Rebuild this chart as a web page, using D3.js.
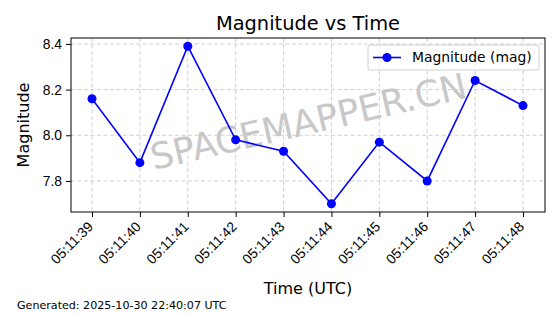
<!DOCTYPE html>
<html lang="en">
<head>
<meta charset="utf-8">
<title>Magnitude vs Time</title>
<style>
  body { margin: 0; background: #fff; }
  svg { font-family: "DejaVu Sans", sans-serif; }
  .grid line { stroke: #c4c4c4; stroke-dasharray: 4,2.5; stroke-width: 0.8; }
  .axis text { font-size: 13.9px; fill: #000; }
  .axis path, .axis line { stroke: #000; }
</style>
</head>
<body>
<svg width="560" height="314"></svg>
<script src="https://d3js.org/d3.v7.min.js"></script>
<script>
// data
var times = ["05:11:39", "05:11:40", "05:11:41", "05:11:42", "05:11:43",
             "05:11:44", "05:11:45", "05:11:46", "05:11:47", "05:11:48"];
var magnitudes = [8.16, 7.88, 8.39, 7.98, 7.93, 7.70, 7.97, 7.80, 8.24, 8.13];
var yTicks = [7.8, 8.0, 8.2, 8.4];

var svg = d3.select("svg"),
    margin = {top: 38, right: 15, bottom: 102, left: 71},
    width = +svg.attr("width") - margin.left - margin.right,
    height = +svg.attr("height") - margin.top - margin.bottom;

var parse = d3.timeParse("%H:%M:%S");
var pts = times.map(function(t, i) { return {t: parse(t), v: magnitudes[i]}; });

var x = d3.scaleTime()
    .domain(d3.extent(pts, function(d) { return d.t; }))
    .range([21, width - 22]);
var y = d3.scaleLinear()
    .domain([7.664, 8.426])
    .range([height, 0]);

var g = svg.append("g").attr("transform", "translate(" + margin.left + "," + margin.top + ")");

// grid
g.append("g").attr("class", "grid")
  .selectAll("line.v").data(pts).enter().append("line")
    .attr("x1", function(d) { return x(d.t); }).attr("x2", function(d) { return x(d.t); })
    .attr("y1", 0).attr("y2", height);
g.append("g").attr("class", "grid")
  .selectAll("line.h").data(yTicks).enter().append("line")
    .attr("x1", 0).attr("x2", width)
    .attr("y1", function(d) { return y(d); }).attr("y2", function(d) { return y(d); });

// watermark
g.append("text")
    .attr("transform", "translate(" + (width / 2 + 1) + "," + (height / 2 - 1) + ") rotate(-13)")
    .attr("text-anchor", "middle")
    .attr("dominant-baseline", "middle")
    .style("font-size", "36px")
    .style("fill", "#c8c8c8")
    .text("SPACEMAPPER.CN");

// axes
var xAxis = g.append("g").attr("class", "axis")
    .attr("transform", "translate(0," + height + ")")
    .call(d3.axisBottom(x).tickValues(pts.map(function(d) { return d.t; }))
      .tickFormat(d3.timeFormat("%H:%M:%S")).tickSize(5).tickSizeOuter(0));
xAxis.selectAll("text")
    .attr("x", 0).attr("y", 0)
    .attr("text-anchor", "end")
    .attr("dy", "0.35em")
    .attr("transform", "translate(-2,12) rotate(-45)");
xAxis.select(".domain").remove();

var yAxis = g.append("g").attr("class", "axis")
    .call(d3.axisLeft(y).tickValues(yTicks).tickFormat(d3.format(".1f")).tickSize(5).tickPadding(4));
yAxis.select(".domain").remove();

// frame
g.append("rect").attr("width", width).attr("height", height)
    .attr("fill", "none").attr("stroke", "#000").attr("stroke-width", 1);

// line + markers
var line = d3.line().x(function(d) { return x(d.t); }).y(function(d) { return y(d.v); });
g.append("path").datum(pts)
    .attr("d", line).attr("fill", "none").attr("stroke", "#0000ff").attr("stroke-width", 1.6);
g.selectAll("circle.pt").data(pts).enter().append("circle")
    .attr("cx", function(d) { return x(d.t); })
    .attr("cy", function(d) { return y(d.v); })
    .attr("r", 4.5).attr("fill", "#0000ff");

// legend
var lg = g.append("g").attr("transform", "translate(" + (width - 177) + ",7)");
lg.append("rect").attr("width", 171).attr("height", 25).attr("rx", 2)
    .attr("fill", "#fff").attr("fill-opacity", 0.8).attr("stroke", "#d0d0d0");
lg.append("line").attr("x1", 5).attr("x2", 33).attr("y1", 12.5).attr("y2", 12.5)
    .attr("stroke", "#0000ff").attr("stroke-width", 1.6);
lg.append("circle").attr("cx", 19).attr("cy", 12.5).attr("r", 4.5).attr("fill", "#0000ff");
lg.append("text").attr("x", 44).attr("y", 12.5).attr("dy", "0.35em")
    .style("font-size", "13.9px").text("Magnitude (mag)");

// titles
svg.append("text").attr("x", margin.left + width / 2).attr("y", 30)
    .attr("text-anchor", "middle").style("font-size", "19.4px").text("Magnitude vs Time");
svg.append("text").attr("x", margin.left + width / 2).attr("y", 294)
    .attr("text-anchor", "middle").style("font-size", "16px").text("Time (UTC)");
svg.append("text")
    .attr("transform", "translate(29," + (margin.top + height / 2) + ") rotate(-90)")
    .attr("text-anchor", "middle").style("font-size", "16px").text("Magnitude");
svg.append("text").attr("x", 17).attr("y", 309)
    .style("font-size", "11.1px").text("Generated: 2025-10-30 22:40:07 UTC");
</script>
</body>
</html>
